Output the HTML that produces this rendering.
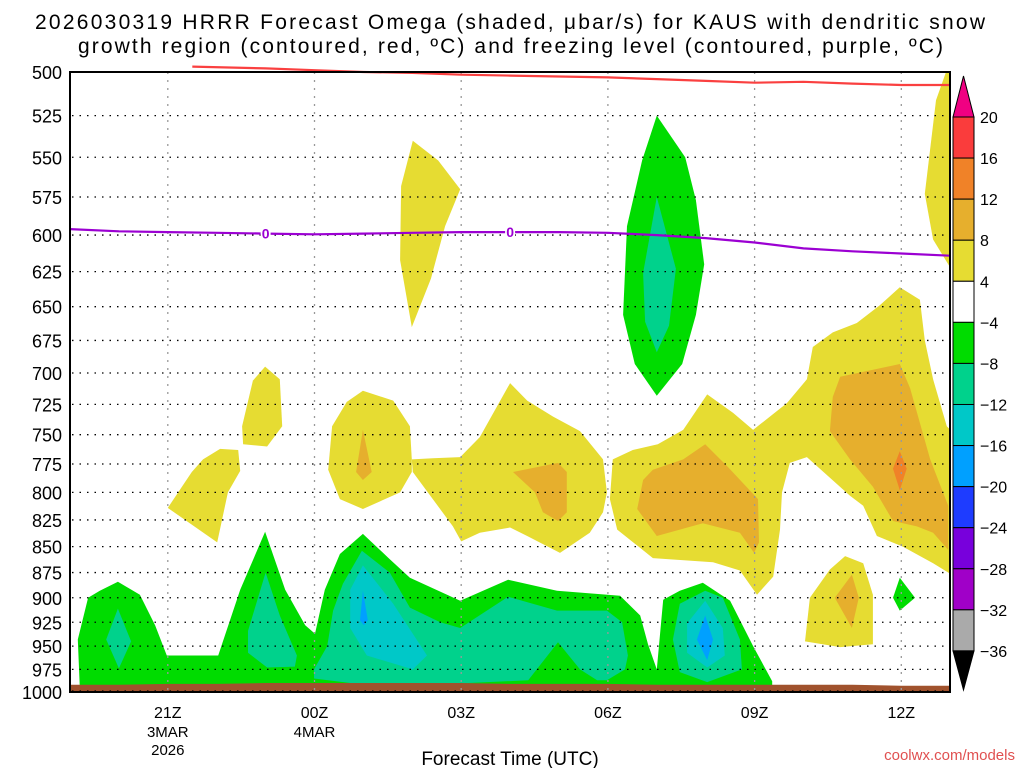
<!DOCTYPE html>
<html><head><meta charset="utf-8">
<style>
body{margin:0;background:#fff;}
svg{display:block;font-family:"Liberation Sans",sans-serif;}
</style></head>
<body>
<svg id="chart" width="1024" height="768" viewBox="0 0 1024 768" xmlns="http://www.w3.org/2000/svg">
<text x="35" y="29" font-size="21" textLength="950" lengthAdjust="spacing">2026030319 HRRR Forecast Omega (shaded, μbar/s) for KAUS with dendritic snow</text>
<text x="78" y="53" font-size="21" textLength="865" lengthAdjust="spacing">growth region (contoured, red, ºC) and freezing level (contoured, purple, ºC)</text>
<defs><clipPath id="plotclip"><rect x="70" y="72" width="880" height="620"/></clipPath>
<clipPath id="lineclip"><rect x="70" y="60" width="880" height="632"/></clipPath></defs>
<g id="shading" clip-path="url(#plotclip)"></g>
<g id="grid"></g>
<g id="lines" clip-path="url(#lineclip)"></g>
<g id="axes"></g>
<g id="cbar"></g>
<text x="510" y="765" font-size="19" text-anchor="middle">Forecast Time (UTC)</text>
<text x="1015" y="760" font-size="15" fill="#e05050" text-anchor="end">coolwx.com/models</text>
</svg>
<script>
const pressureLevels=[500,525,550,575,600,625,650,675,700,725,750,775,800,825,850,875,900,925,950,975,1000];
const timeTickHours=[2,5,8,11,14,17];
const timeTickLabels=["21Z","00Z","03Z","06Z","09Z","12Z"];
const timeTickDates=[["3MAR","2026"],["4MAR"],[],[],[],[]];
const cbarLevels=[20,16,12,8,4,-4,-8,-12,-16,-20,-24,-28,-32,-36];
const cbarColors=["#fa3c3c","#f08228","#e6af2d","#e6dc32","#ffffff","#00dc00","#00d28c","#00c8c8","#00a0ff","#1e3cff","#7800dc","#a000c8","#aaaaaa"];
const redHours=[2.5,4,5,6,7,8,9,10,11,12,13,14,15,16,17,18];
const redPres=[497,498,499,500,500.5,501.5,502,502.5,503,504,505,506,505.5,506.5,507.3,507.3];
const frzHours=[0,1,2,3,4,5,6,7,8,9,10,11,12,13,14,15,16,17,18];
const frzPres=[596,597.5,598,598.5,599,599.5,599,598.5,598,598,598,598.5,600,602,605,609,611,612.5,614];
const sfcHours=[0,1,2,3,4,5,6,7,8,9,10,11,12,13,14,15,16,17,18];
const sfcPres=[992,992,991,991,990,990,990,990,990,991,991,991,992,992,992,992,992,993,993];
const yellowLeftA=[[3.99,695],[4.29,705],[4.34,743],[4.03,760],[3.54,758],[3.52,743],[3.74,706]];
const yellowLeftB=[[3.07,762],[3.44,763],[3.48,781],[3.23,800],[3.01,846],[2.0,814],[2.49,782],[2.72,771]];
const yellowUpper=[[7.01,540],[7.53,552],[7.98,570],[7.67,594],[7.38,630],[6.99,665],[6.75,617],[6.77,568]];
const yellowEdge=[[17.98,495],[18.2,495],[18.2,625],[17.98,621],[17.65,603],[17.48,573],[17.71,516]];
const yellow00Z=[[5.99,714],[6.61,722],[6.95,743],[6.99,771],[6.99,782],[6.75,800],[5.99,815],[5.52,806],[5.28,780],[5.36,743],[5.66,723]];
const yellow03Z=[[6.99,771],[7.42,770],[7.98,769],[8.38,752],[9.0,708],[9.35,722],[9.88,735],[10.43,747],[10.9,771],[10.98,800],[10.9,818],[10.63,837],[10.02,856],[9.35,840],[9.0,832],[8.38,837],[8.0,845],[7.83,831],[7.42,806],[7.01,782]];
const yellowRight=[[11.1,771],[11.51,763],[12.02,758],[12.54,746],[13.03,717],[13.56,732],[13.97,746],[14.66,724],[15.07,705],[15.19,680],[15.6,669],[16.09,662],[16.56,649],[16.97,636],[17.38,645],[17.48,675],[17.65,705],[17.93,743],[18.2,754],[18.2,882],[17.65,866],[17.03,850],[16.5,840],[16.22,812],[15.95,803],[15.07,769],[14.72,774],[14.56,800],[14.52,834],[14.38,879],[14.05,897],[13.7,873],[13.15,865],[11.92,861],[11.19,834],[11.04,806]];
const yellowSmall=[[15.85,859],[16.22,866],[16.42,897],[16.42,948],[15.75,951],[15.03,945],[15.13,900],[15.54,872]];
const orange00Z=[[5.99,746],[6.17,782],[5.99,789],[5.85,782]];
const orange03Z=[[9.06,782],[9.98,774],[10.16,782],[10.16,818],[9.98,826],[9.67,818],[9.51,800]];
const orange06Z=[[12.99,758],[13.44,777],[14.07,806],[14.09,846],[13.99,856],[13.7,837],[12.94,828],[12.0,840],[11.6,815],[11.72,789],[11.92,780],[12.54,771]];
const orangeRight=[[15.75,703],[16.97,693],[17.18,712],[17.59,771],[17.96,812],[17.96,853],[17.65,837],[17.32,831],[16.83,826],[16.42,795],[15.95,771],[15.54,747],[15.6,719]];
const orangeSmall=[[15.99,877],[16.13,900],[15.99,931],[15.64,900]];
const darkOrange12Z=[[16.97,764],[17.11,779],[16.97,798],[16.83,779]];
const greenLow=[[0.2,995],[0.16,943],[0.37,900],[0.61,893],[0.98,884],[1.43,897],[1.74,928],[1.98,960],[3.03,960],[3.48,892],[3.99,836],[4.4,892],[4.81,928],[5.01,937],[5.21,892],[5.52,857],[5.99,838],[6.54,862],[6.95,880],[7.98,903],[8.96,882],[9.96,893],[11.25,898],[11.66,918],[11.82,948],[12.0,975],[12.13,902],[12.47,893],[12.94,885],[13.5,903],[13.97,950],[14.36,988],[14.36,995]];
const greenUpper=[[12.0,525],[12.58,550],[12.8,577],[12.97,620],[12.8,656],[12.52,693],[12.0,718],[11.55,693],[11.31,656],[11.39,594],[11.7,552]];
const greenSmall=[[16.97,880],[17.28,900],[16.97,913],[16.83,900]];
const tealLeft=[[0.98,911],[1.25,945],[1.0,974],[0.74,943]];
const teal00Z=[[4.0,875],[4.29,918],[4.64,960],[4.6,972],[4.03,973],[3.64,957],[3.64,934]];
const tealMid=[[4.99,985],[4.99,975],[5.26,950],[5.38,913],[5.58,886],[5.97,854],[6.54,875],[6.95,910],[7.57,925],[7.98,931],[8.96,899],[9.96,913],[10.98,913],[11.29,925],[11.41,960],[11.35,975],[10.98,987],[10.78,987],[10.43,975],[9.98,946],[9.37,987],[7.77,991],[5.73,990]];
const teal08Z=[[12.99,893],[13.35,900],[13.7,943],[13.74,975],[13.03,989],[12.47,978],[12.33,943],[12.47,906]];
const tealUpper=[[12.0,575],[12.39,623],[12.25,664],[12.0,684],[11.76,661],[11.72,626]];
const cyanMid=[[5.99,868],[6.61,906],[7.3,960],[7.01,975],[6.07,960],[5.73,931],[5.73,892]];
const cyan08Z=[[12.99,903],[13.35,931],[13.39,960],[13.03,973],[12.62,957],[12.62,926]];
const blueMid=[[5.99,893],[6.09,923],[6.01,928],[5.93,923]];
const blue08Z=[[12.99,918],[13.15,943],[13.03,965],[12.82,943]];

const NS="http://www.w3.org/2000/svg";
const X=t=>70+t*48.9;
const Y=p=>72+620*Math.log(p/500)/Math.LN2;
function mk(tag,parent){const e=document.createElementNS(NS,tag);parent.appendChild(e);return e;}

const shading=document.getElementById('shading');
const regions=[
 ["yellow-region-left-a",yellowLeftA,"#e6dc32"],["yellow-region-left-b",yellowLeftB,"#e6dc32"],
 ["yellow-region-upper",yellowUpper,"#e6dc32"],["yellow-region-edge",yellowEdge,"#e6dc32"],
 ["yellow-region-00z",yellow00Z,"#e6dc32"],["yellow-region-03z",yellow03Z,"#e6dc32"],
 ["yellow-region-right",yellowRight,"#e6dc32"],["yellow-region-small",yellowSmall,"#e6dc32"],
 ["orange-region-00z",orange00Z,"#e6af2d"],["orange-region-03z",orange03Z,"#e6af2d"],
 ["orange-region-06z",orange06Z,"#e6af2d"],["orange-region-right",orangeRight,"#e6af2d"],
 ["orange-region-small",orangeSmall,"#e6af2d"],["dark-orange-region-12z",darkOrange12Z,"#f08228"],
 ["green-region-low",greenLow,"#00dc00"],["green-region-upper",greenUpper,"#00dc00"],["green-region-small",greenSmall,"#00dc00"],
 ["teal-region-left",tealLeft,"#00d28c"],["teal-region-00z",teal00Z,"#00d28c"],["teal-region-mid",tealMid,"#00d28c"],
 ["teal-region-08z",teal08Z,"#00d28c"],["teal-region-upper",tealUpper,"#00d28c"],
 ["cyan-region-mid",cyanMid,"#00c8c8"],["cyan-region-08z",cyan08Z,"#00c8c8"],
 ["blue-region-mid",blueMid,"#00a0ff"],["blue-region-08z",blue08Z,"#00a0ff"]
];
regions.forEach(r=>{
 const el=mk('polygon',shading);
 
 
 el.setAttribute('points',r[1].map(q=>X(q[0]).toFixed(1)+','+Y(q[1]).toFixed(1)).join(' '));
 el.setAttribute('fill',r[2]);
});
{
 const el=mk('polygon',shading);
 
 
 const pts=sfcHours.map((h,i)=>X(h).toFixed(1)+','+Y(sfcPres[i]).toFixed(1));
 pts.push(X(18)+','+Y(1010),X(0)+','+Y(1010));
 el.setAttribute('points',pts.join(' '));
 el.setAttribute('fill','#a0522d');
}
const grid=document.getElementById('grid');
pressureLevels.forEach(p=>{
 if(p===500)return;
 const yy=p===1000?Y(p)-1:Y(p);
 const l=mk('line',grid);
 
 
 l.setAttribute('x1',72);l.setAttribute('x2',950);l.setAttribute('y1',yy);l.setAttribute('y2',yy);
 l.setAttribute('stroke','#000');l.setAttribute('stroke-width','1.3');l.setAttribute('stroke-dasharray','1.5 6');
});
timeTickHours.forEach(h=>{
 const l=mk('line',grid);
 
 
 l.setAttribute('x1',X(h));l.setAttribute('x2',X(h));l.setAttribute('y1',72);l.setAttribute('y2',692);
 l.setAttribute('stroke','#999');l.setAttribute('stroke-width','1.3');l.setAttribute('stroke-dasharray','2 6');
});
const lines=document.getElementById('lines');
function pathFrom(hs,ps){return hs.map((h,i)=>(i?'L':'M')+X(h).toFixed(1)+','+Y(ps[i]).toFixed(1)).join('');}
{const l=mk('path',lines);
 
 
 l.setAttribute('d',pathFrom(redHours,redPres));l.setAttribute('fill','none');l.setAttribute('stroke','#fa4040');l.setAttribute('stroke-width','2.2');}
{const l=mk('path',lines);
 
 
 l.setAttribute('d',pathFrom(frzHours,frzPres));l.setAttribute('fill','none');l.setAttribute('stroke','#9b00d2');l.setAttribute('stroke-width','2.2');}
[4,9].forEach(h=>{
 const i=frzHours.indexOf(h);
 const bg=mk('rect',lines);
 
 
 bg.setAttribute('x',X(h)-5);bg.setAttribute('y',Y(frzPres[i])-7);bg.setAttribute('width',10);bg.setAttribute('height',13);bg.setAttribute('fill','#fff');
 const t=mk('text',lines);
 
 
 t.setAttribute('x',X(h));t.setAttribute('y',Y(frzPres[i])+5);t.setAttribute('text-anchor','middle');
 t.setAttribute('font-size','14');t.setAttribute('font-weight','bold');t.setAttribute('fill','#9b00d2');t.textContent='0';
});
const axes=document.getElementById('axes');
{const r=mk('rect',axes);
 
 
 r.setAttribute('x',70);r.setAttribute('y',72);r.setAttribute('width',880);r.setAttribute('height',620);
 r.setAttribute('fill','none');r.setAttribute('stroke','#000');r.setAttribute('stroke-width','2');}
pressureLevels.forEach(p=>{
 const t=mk('text',axes);
 
 
 t.setAttribute('x',62);t.setAttribute('y',Y(p)+7);t.setAttribute('text-anchor','end');t.setAttribute('font-size','18');
 t.textContent=p;
});
timeTickHours.forEach((h,i)=>{
 const t=mk('text',axes);
 
 
 t.setAttribute('x',X(h));t.setAttribute('y',718);t.setAttribute('text-anchor','middle');t.setAttribute('font-size','16');
 t.textContent=timeTickLabels[i];
 timeTickDates[i].forEach((d,j)=>{
  const s=mk('text',axes);
  
  
  s.setAttribute('x',X(h));s.setAttribute('y',737+j*18);s.setAttribute('text-anchor','middle');s.setAttribute('font-size','15');
  s.textContent=d;
 });
});
const cbar=document.getElementById('cbar');
const CBY=i=>117+i*41.07;
{const tri=mk('polygon',cbar);
 
 
 tri.setAttribute('points','953,'+CBY(0)+' 974,'+CBY(0)+' 963.5,76');tri.setAttribute('fill','#f00082');tri.setAttribute('stroke','#000');}
cbarColors.forEach((c,i)=>{
 const r=mk('rect',cbar);
 
 
 r.setAttribute('x',953);r.setAttribute('y',CBY(i));r.setAttribute('width',21);r.setAttribute('height',CBY(i+1)-CBY(i));
 r.setAttribute('fill',c);r.setAttribute('stroke','#000');r.setAttribute('stroke-width','1');
});
{const tri=mk('polygon',cbar);
 
 
 tri.setAttribute('points','953,'+CBY(13)+' 974,'+CBY(13)+' 963.5,690');tri.setAttribute('fill','#000');tri.setAttribute('stroke','#000');}
cbarLevels.forEach((v,i)=>{
 const t=mk('text',cbar);
 
 
 t.setAttribute('x',980);t.setAttribute('y',CBY(i)+6);t.setAttribute('font-size','16');
 t.textContent=v<0?'\u2212'+Math.abs(v):String(v);
});
</script>
</body></html>
